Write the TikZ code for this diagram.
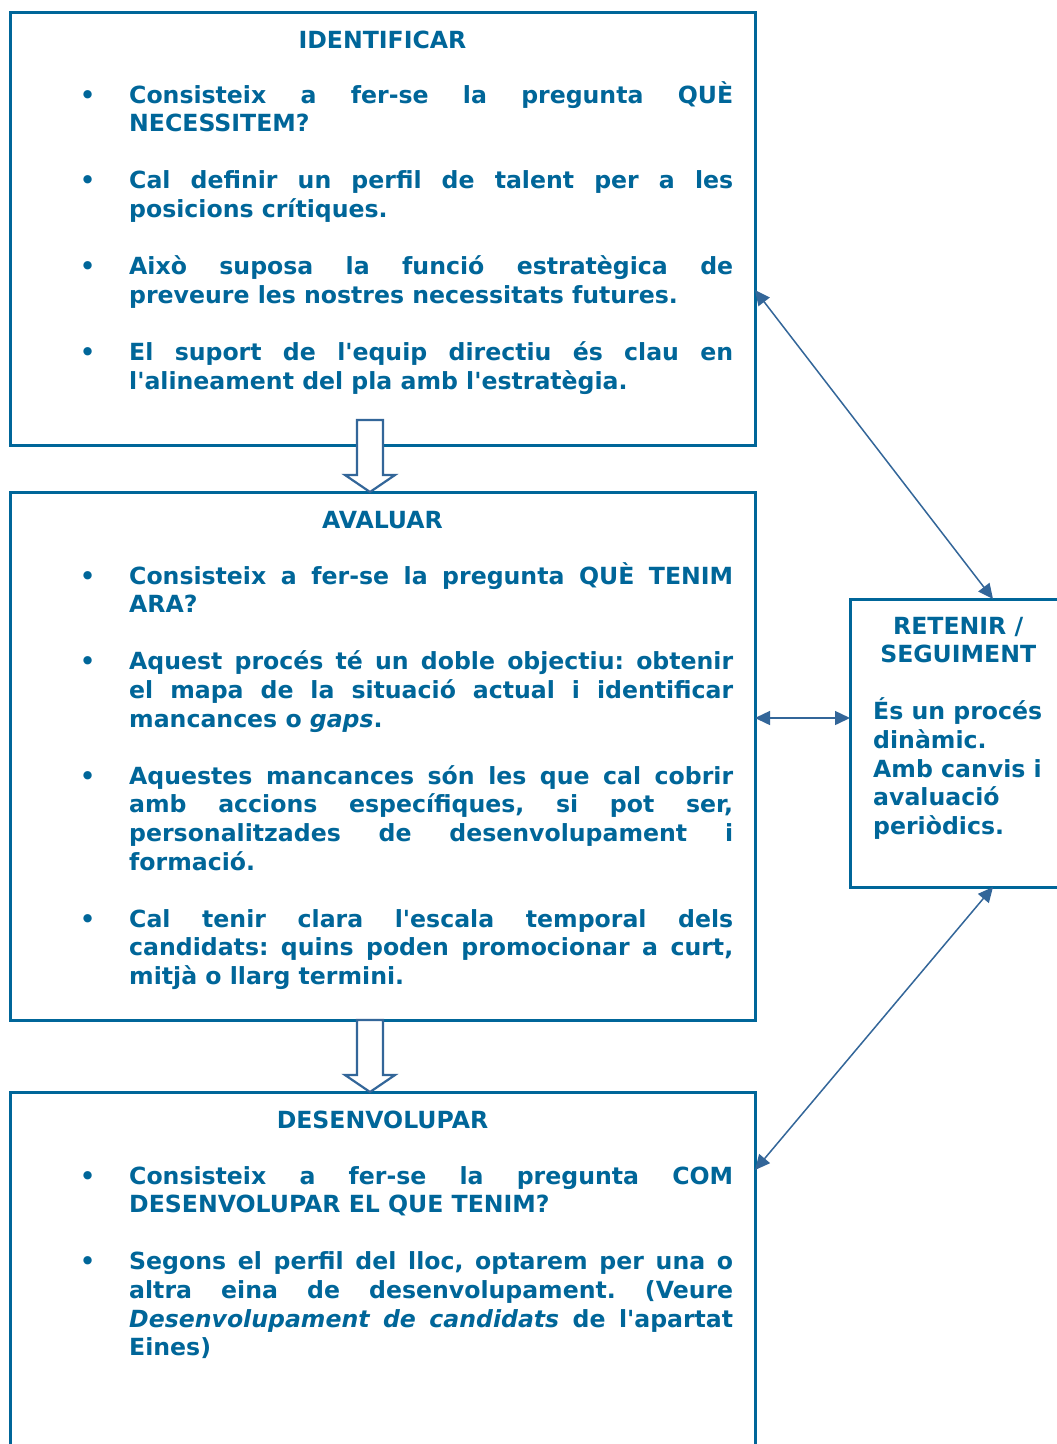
\documentclass[tikz,border=0pt]{standalone}
\usepackage{fontspec}
\setmainfont{DejaVu Sans}
\usetikzlibrary{arrows.meta,calc}
\definecolor{tx}{RGB}{0,102,153}
\definecolor{bd}{RGB}{0,102,153}
\definecolor{ar}{RGB}{51,102,153}
\newlength\bw \setlength\bw{604pt}
\newcommand\fl[1]{\hbox{\hbox to49pt{\textbullet\hfil}\hbox to\bw{#1}}}
\newcommand\ml[1]{\hbox{\kern49pt\hbox to\bw{#1}}}
\newcommand\el[1]{\hbox{\kern49pt #1}}
\newcommand\gap{\vskip28.6pt}
\newcommand\q{\textquotesingle}
\frenchspacing
\begin{document}
\begin{tikzpicture}[x=1pt,y=-1pt,
  box/.style={draw=bd,line width=3pt,rectangle,anchor=north west,inner sep=0pt,outer sep=0pt},
  txt/.style={text=tx,inner sep=0pt,font=\fontsize{23.6}{28.6}\selectfont\bfseries\frenchspacing},
  conn/.style={draw=ar,line width=1.5pt,{Triangle[length=15pt,width=14pt]}-{Triangle[length=15pt,width=14pt]}},
  hollow/.style={draw=ar,line width=2.2pt,fill=white,line join=miter}]
\clip (0,0) rectangle (1057,1444);
\fill[white] (0,0) rectangle (1057,1444);
% boxes
\node[box,minimum width=745pt,minimum height=433pt] (b1) at (10,12) {};
\node[box,minimum width=745pt,minimum height=528pt] (b2) at (10,492) {};
\node[box,minimum width=745pt,minimum height=380pt] (b3) at (10,1092) {};
\node[box,minimum width=216pt,minimum height=288pt] (r) at (850,599) {};
% box 1
\node[txt,anchor=base] (t1) at (382.5,48) {IDENTIFICAR};
\node[txt,anchor=base west] (c1) at (80,103) {\vtop{%
\fl{Consisteix a fer-se la pregunta QUÈ}
\el{NECESSITEM?}
\gap
\fl{Cal definir un perfil de talent per a les}
\el{posicions crítiques.}
\gap
\fl{Això suposa la funció estratègica de}
\el{preveure les nostres necessitats futures.}
\gap
\fl{El suport de l\q equip directiu és clau en}
\el{l\q alineament del pla amb l\q estratègia.}}};
% box 2
\node[txt,anchor=base] (t2) at (382.5,528) {AVALUAR};
\node[txt,anchor=base west] (c2) at (80,584) {\vtop{%
\fl{Consisteix a fer-se la pregunta QUÈ TENIM}
\el{ARA?}
\gap
\fl{Aquest procés té un doble objectiu: obtenir}
\ml{el mapa de la situació actual i identificar}
\el{mancances o \textit{gaps}.}
\gap
\fl{Aquestes mancances són les que cal cobrir}
\ml{amb accions específiques, si pot ser,}
\ml{personalitzades de desenvolupament i}
\el{formació.}
\gap
\fl{Cal tenir clara l\q escala temporal dels}
\ml{candidats: quins poden promocionar a curt,}
\el{mitjà o llarg termini.}}};
% box 3
\node[txt,anchor=base] (t3) at (382.5,1128) {DESENVOLUPAR};
\node[txt,anchor=base west] (c3) at (80,1184) {\vtop{%
\fl{Consisteix a fer-se la pregunta COM}
\el{DESENVOLUPAR EL QUE TENIM?}
\gap
\fl{Segons el perfil del lloc, optarem per una o}
\ml{altra eina de desenvolupament. (Veure}
\ml{\textit{Desenvolupament de candidats} de l\q apartat}
\el{Eines)}}};
% right box
\node[txt,anchor=base west] (rt) at (873,634) {\vtop{%
\hbox to170pt{\hfil RETENIR /\hfil}
\hbox to170pt{\hfil SEGUIMENT\hfil}
\gap
\hbox{És un procés}
\hbox{dinàmic.}
\hbox{Amb canvis i}
\hbox{avaluació}
\hbox{periòdics.}}};
% hollow arrows
\coordinate (h1) at ($(b1.south)+(-12.5,-25)$);
\coordinate (h2) at ($(b2.south)+(-12.5,0)$);
\draw[hollow] ($(h1)+(-13,0)$) -- ++(0,55) -- ++(-12,0) -- ++(25,17) -- ++(25,-17) -- ++(-12,0) -- ++(0,-55) -- cycle;
\draw[hollow] ($(h2)+(-13,0)$) -- ++(0,55) -- ++(-12,0) -- ++(25,17) -- ++(25,-17) -- ++(-12,0) -- ++(0,-55) -- cycle;
% connectors
\draw[conn] ([yshift=-278pt]b1.north east) -- ([xshift=35pt]r.north);
\draw[conn] ([yshift=-226pt]b2.north east) -- ([yshift=25pt]r.west);
\draw[conn] ([xshift=35pt]r.south) -- ([yshift=-78pt]b3.north east);
\end{tikzpicture}
\end{document}
